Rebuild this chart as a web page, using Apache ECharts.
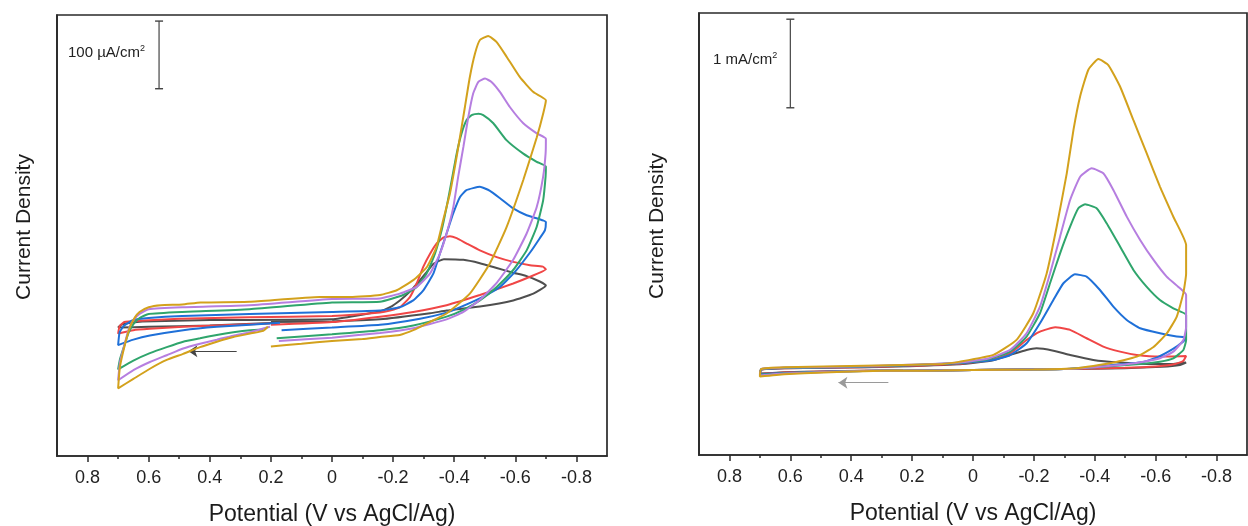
<!DOCTYPE html>
<html>
<head>
<meta charset="utf-8">
<title>CV curves</title>
<script src="https://cdn.jsdelivr.net/npm/echarts@6/dist/echarts.min.js"></script>
<style>
html, body { margin: 0; padding: 0; background: #fff; }
#chart { width: 1248px; height: 526px; }
</style>
</head>
<body>
<div id="chart"></div>
<script>
// potential (V vs AgCl/Ag), current density: left in uA/cm2, right in mA/cm2
var majorTicks = [0.8, 0.6, 0.4, 0.2, 0, -0.2, -0.4, -0.6, -0.8]
var minorTicks = [0.7, 0.5, 0.3, 0.1, -0.1, -0.3, -0.5, -0.7]
var seriesColors = ['#4f4f4f', '#f04646', '#1f70d8', '#2fa56c', '#b67ee0', '#d3a11c']

var leftBlack = [[0.2, 0], [0.0, 1], [-0.157, 4], [-0.321, 13], [-0.375, 17], [-0.484, 23], [-0.593, 32], [-0.659, 42], [-0.70, 54],
  [-0.68, 60], [-0.637, 68], [-0.593, 73], [-0.539, 80], [-0.484, 87], [-0.43, 92], [-0.366, 93], [-0.332, 86], [-0.31, 74], [-0.288, 62], [-0.255, 45], [-0.222, 32], [-0.19, 22], [-0.157, 16],
  [0.0, 4], [0.4, 3], [0.62, 1], [0.66, -1], [0.69, -4], [0.70, -8],
  [0.6, -7], [0.4, -5], [0.2, -1.5]]
var leftRed = [[0.2, -4], [0.0, 0], [-0.157, 8], [-0.266, 15], [-0.375, 25], [-0.484, 40], [-0.593, 57], [-0.648, 67], [-0.70, 78],
  [-0.69, 82], [-0.648, 84], [-0.593, 89], [-0.539, 96], [-0.484, 106], [-0.441, 116], [-0.408, 124], [-0.386, 127], [-0.364, 125], [-0.342, 116], [-0.321, 101], [-0.299, 82], [-0.277, 57], [-0.255, 37], [-0.222, 22], [-0.19, 17], [-0.157, 14],
  [0.0, 9], [0.27, 7], [0.5, 5], [0.63, 2], [0.68, 0], [0.695, -6], [0.70, -17],
  [0.65, -12], [0.596, -10], [0.487, -7], [0.377, -5], [0.203, -2]]
var leftBlue = [[0.165, -12], [0.0, -8], [-0.157, -4], [-0.288, 5], [-0.375, 14], [-0.42, 22], [-0.484, 35], [-0.55, 52], [-0.6, 75], [-0.65, 104], [-0.68, 124], [-0.697, 136], [-0.70, 148],
  [-0.68, 152], [-0.637, 158], [-0.593, 168], [-0.55, 183], [-0.517, 194], [-0.484, 200], [-0.44, 195], [-0.419, 185], [-0.397, 161], [-0.375, 131], [-0.353, 101], [-0.332, 72], [-0.299, 47], [-0.266, 32], [-0.222, 22], [-0.157, 17],
  [0.0, 15], [0.27, 12], [0.49, 9], [0.60, 6], [0.65, 3], [0.68, -5], [0.695, -15], [0.70, -34],
  [0.65, -26], [0.596, -20], [0.487, -12], [0.377, -7], [0.268, -4], [0.17, -1]]
var leftGreen = [[0.181, -24], [0.0, -18], [-0.157, -12], [-0.266, -5], [-0.375, 8], [-0.43, 18], [-0.484, 32], [-0.539, 52], [-0.593, 77], [-0.637, 106], [-0.67, 141], [-0.691, 180], [-0.699, 215], [-0.70, 230],
  [-0.67, 237], [-0.626, 249], [-0.571, 269], [-0.528, 294], [-0.495, 306], [-0.479, 308], [-0.457, 306], [-0.441, 299], [-0.424, 279], [-0.408, 249], [-0.392, 210], [-0.375, 170], [-0.359, 136], [-0.337, 101], [-0.31, 72], [-0.277, 52], [-0.233, 40], [-0.157, 30],
  [0.0, 29], [0.27, 19], [0.49, 15], [0.60, 12], [0.63, 6], [0.65, -3], [0.665, -15], [0.68, -35], [0.694, -55], [0.70, -70],
  [0.65, -57], [0.596, -46], [0.541, -37], [0.487, -29], [0.432, -24], [0.377, -19], [0.323, -15], [0.268, -12], [0.225, -11]]
var leftPurple = [[0.174, -28], [0.0, -23], [-0.157, -16], [-0.266, -9], [-0.375, 4], [-0.43, 15], [-0.484, 33], [-0.539, 58], [-0.593, 92], [-0.637, 131], [-0.67, 170], [-0.691, 215], [-0.699, 249], [-0.70, 271],
  [-0.67, 279], [-0.626, 294], [-0.582, 318], [-0.55, 340], [-0.522, 355], [-0.501, 360], [-0.479, 355], [-0.462, 338], [-0.446, 303], [-0.43, 259], [-0.413, 215], [-0.397, 170], [-0.375, 131], [-0.353, 101], [-0.321, 72], [-0.277, 52], [-0.222, 42], [-0.157, 35],
  [0.0, 34], [0.27, 25], [0.49, 22], [0.60, 19], [0.63, 12], [0.65, 3], [0.665, -10], [0.68, -35], [0.694, -60], [0.70, -86],
  [0.65, -71], [0.596, -59], [0.541, -49], [0.487, -39], [0.432, -32], [0.377, -26], [0.323, -20], [0.268, -15], [0.203, -7]]
var leftGold = [[0.20, -36], [0.10, -32], [0.0, -28], [-0.10, -25], [-0.157, -22], [-0.222, -19], [-0.266, -12], [-0.32, 0], [-0.376, 13], [-0.451, 42], [-0.517, 87], [-0.571, 140], [-0.626, 210], [-0.67, 273], [-0.692, 310], [-0.70, 328],
  [-0.659, 340], [-0.615, 362], [-0.572, 392], [-0.539, 414], [-0.511, 423], [-0.484, 417], [-0.468, 397], [-0.451, 362], [-0.435, 318], [-0.419, 274], [-0.402, 229], [-0.386, 190], [-0.364, 151], [-0.342, 111], [-0.31, 81], [-0.266, 62], [-0.212, 47], [-0.157, 40],
  [-0.06, 37], [0.04, 37], [0.27, 30], [0.43, 29], [0.49, 26], [0.56, 25], [0.60, 22], [0.63, 15], [0.645, 7], [0.661, -7], [0.677, -32], [0.694, -66], [0.70, -98],
  [0.65, -84], [0.596, -69], [0.541, -56], [0.487, -47], [0.432, -37], [0.377, -29], [0.323, -22], [0.268, -17], [0.225, -13], [0.21, -7]]

var rightBlack = [[0.23, -0.01], [0.0, 0.0], [-0.3, 0.01], [-0.5, 0.02], [-0.62, 0.035], [-0.68, 0.055], [-0.70, 0.083],
  [-0.658, 0.068], [-0.57, 0.068], [-0.483, 0.083], [-0.395, 0.113], [-0.319, 0.169], [-0.264, 0.218], [-0.209, 0.245], [-0.176, 0.226], [-0.122, 0.169], [-0.067, 0.11], [0.043, 0.065], [0.36, 0.03], [0.62, 0.018], [0.696, 0.004], [0.70, -0.04],
  [0.62, -0.027], [0.49, -0.016], [0.36, -0.009], [0.23, -0.005]]
var rightRed = [[0.23, -0.01], [0.0, 0.0], [-0.3, 0.01], [-0.5, 0.025], [-0.6, 0.04], [-0.66, 0.065], [-0.69, 0.1], [-0.70, 0.158],
  [-0.614, 0.151], [-0.538, 0.17], [-0.483, 0.207], [-0.428, 0.264], [-0.373, 0.358], [-0.319, 0.452], [-0.27, 0.482], [-0.22, 0.433], [-0.176, 0.339], [-0.122, 0.188], [-0.067, 0.12], [0.043, 0.07], [0.36, 0.032], [0.62, 0.02], [0.696, 0.005], [0.70, -0.045],
  [0.62, -0.03], [0.49, -0.018], [0.36, -0.01], [0.23, -0.005]]
var rightBlue = [[0.23, -0.01], [0.0, 0.0], [-0.3, 0.01], [-0.553, 0.086], [-0.605, 0.142], [-0.657, 0.237], [-0.69, 0.32], [-0.70, 0.365],
  [-0.669, 0.377], [-0.614, 0.414], [-0.549, 0.471], [-0.505, 0.565], [-0.461, 0.715], [-0.417, 0.903], [-0.373, 1.054], [-0.335, 1.08], [-0.297, 0.979], [-0.264, 0.79], [-0.22, 0.527], [-0.176, 0.301], [-0.122, 0.169], [-0.067, 0.113], [0.043, 0.075], [0.36, 0.035], [0.62, 0.022], [0.696, 0.006], [0.70, -0.05],
  [0.62, -0.033], [0.49, -0.02], [0.36, -0.011], [0.23, -0.005]]
var rightGreen = [[0.23, -0.01], [0.0, 0.0], [-0.3, 0.01], [-0.549, 0.068], [-0.614, 0.094], [-0.658, 0.132], [-0.691, 0.226], [-0.70, 0.339], [-0.70, 0.621],
  [-0.658, 0.696], [-0.614, 0.79], [-0.57, 0.941], [-0.527, 1.129], [-0.483, 1.393], [-0.439, 1.656], [-0.406, 1.825], [-0.368, 1.87], [-0.346, 1.825], [-0.319, 1.618], [-0.286, 1.317], [-0.253, 0.979], [-0.22, 0.64], [-0.176, 0.377], [-0.122, 0.207], [-0.05, 0.12], [0.043, 0.08], [0.36, 0.038], [0.62, 0.024], [0.696, 0.008], [0.70, -0.055],
  [0.62, -0.036], [0.49, -0.022], [0.36, -0.012], [0.23, -0.005]]
var rightPurple = [[0.23, -0.01], [0.0, 0.0], [-0.3, 0.01], [-0.483, 0.057], [-0.56, 0.094], [-0.614, 0.132], [-0.658, 0.207], [-0.691, 0.339], [-0.70, 0.489], [-0.70, 0.847],
  [-0.68, 0.922], [-0.636, 1.054], [-0.593, 1.242], [-0.549, 1.468], [-0.505, 1.731], [-0.461, 2.032], [-0.428, 2.22], [-0.39, 2.277], [-0.352, 2.182], [-0.319, 1.919], [-0.286, 1.505], [-0.253, 1.09], [-0.22, 0.715], [-0.176, 0.414], [-0.122, 0.226], [-0.05, 0.13], [0.043, 0.085], [0.36, 0.042], [0.62, 0.027], [0.696, 0.01], [0.70, -0.062],
  [0.62, -0.04], [0.49, -0.024], [0.36, -0.013], [0.23, -0.005]]
var rightGold = [[0.23, -0.01], [0.1, -0.005], [0.0, 0.0], [-0.2, 0.005], [-0.34, 0.02], [-0.45, 0.075], [-0.538, 0.15], [-0.593, 0.26], [-0.636, 0.41], [-0.669, 0.6], [-0.691, 0.87], [-0.70, 1.09], [-0.70, 1.41],
  [-0.658, 1.73], [-0.614, 2.07], [-0.57, 2.45], [-0.527, 2.82], [-0.483, 3.2], [-0.445, 3.44], [-0.412, 3.51], [-0.379, 3.39], [-0.352, 3.09], [-0.33, 2.71], [-0.308, 2.22], [-0.275, 1.62], [-0.242, 1.09], [-0.198, 0.64], [-0.143, 0.34], [-0.067, 0.17], [0.043, 0.094], [0.10, 0.068], [0.36, 0.047], [0.62, 0.03], [0.696, 0.01], [0.70, -0.073],
  [0.62, -0.047], [0.49, -0.028], [0.36, -0.015], [0.23, -0.005]]

var leftScaleBar = [[0.566, 345], [0.566, 445]]
var rightScaleBar = [[0.6, 2.96], [0.6, 3.96]]
var leftArrow = [[0.312, -43], [0.47, -43]]
var rightArrow = [[0.278, -0.143], [0.442, -0.143]]

var leftCurves = [leftBlack, leftRed, leftBlue, leftGreen, leftPurple, leftGold]
var rightCurves = [rightBlack, rightRed, rightBlue, rightGreen, rightPurple, rightGold]

var font = "'Liberation Sans', Arial, sans-serif"

function mainXAxis (grid) {
  return {
    type: 'value', gridIndex: grid, min: -0.9, max: 0.9, inverse: true, position: 'bottom',
    name: 'Potential (V vs AgCl/Ag)', nameLocation: 'middle', nameGap: 47,
    nameTextStyle: { fontSize: 23, color: '#1c1c1c', fontFamily: font },
    axisLine: { onZero: false, lineStyle: { color: '#2a2a2a', width: 1.7 } },
    axisTick: { show: true, length: 6, customValues: majorTicks, lineStyle: { color: '#2a2a2a', width: 1.5 } },
    axisLabel: { customValues: majorTicks, fontSize: 18, color: '#222', fontFamily: font, margin: 13 },
    splitLine: { show: false }
  }
}
function minorXAxis (grid) {
  return {
    type: 'value', gridIndex: grid, min: -0.9, max: 0.9, inverse: true, position: 'bottom',
    axisLine: { show: false, onZero: false },
    axisTick: { show: true, length: 3, customValues: minorTicks, lineStyle: { color: '#2a2a2a', width: 1.5 } },
    axisLabel: { show: false },
    splitLine: { show: false }
  }
}
function yAxisFor (grid, min, max) {
  return {
    type: 'value', gridIndex: grid, min: min, max: max, position: 'left',
    axisLine: { show: true, onZero: false, lineStyle: { color: '#2a2a2a', width: 1.7 } },
    axisTick: { show: false }, axisLabel: { show: false }, splitLine: { show: false }
  }
}
function curve (data, color, xi, yi) {
  return {
    type: 'line', xAxisIndex: xi, yAxisIndex: yi, data: data,
    symbol: 'none', smooth: 0.15, silent: true,
    lineStyle: { color: color, width: 2 }, itemStyle: { color: color }
  }
}
function scaleBar (data, xi, yi) {
  return {
    type: 'line', xAxisIndex: xi, yAxisIndex: yi, data: data, silent: true,
    symbol: 'rect', symbolSize: [8, 1.4], showSymbol: true,
    lineStyle: { color: '#444', width: 1.2 }, itemStyle: { color: '#444' }
  }
}
function arrow (data, xi, yi, color) {
  return {
    type: 'lines', coordinateSystem: 'cartesian2d', xAxisIndex: xi, yAxisIndex: yi, silent: true,
    symbol: ['none', 'arrow'], symbolSize: 9,
    lineStyle: { color: color, width: 1.1, opacity: 1 }, itemStyle: { color: '#111' },
    data: [{ coords: data }]
  }
}

var series = []
leftCurves.forEach(function (c, i) { series.push(curve(c, seriesColors[i], 0, 0)) })
rightCurves.forEach(function (c, i) { series.push(curve(c, seriesColors[i], 2, 1)) })
series.push(scaleBar(leftScaleBar, 0, 0))
series.push(scaleBar(rightScaleBar, 2, 1))
series.push(arrow(leftArrow, 0, 0, '#444'))
series.push(arrow(rightArrow, 2, 1, '#9a9a9a'))

var supRich = {
  b: { fontSize: 15, fontFamily: font, fill: '#222', lineHeight: 18 },
  s: { fontSize: 9, fontFamily: font, fill: '#222', verticalAlign: 'top' }
}

var chart = echarts.init(document.getElementById('chart'), null, { renderer: 'canvas' })
chart.setOption({
  animation: false,
  backgroundColor: '#fff',
  textStyle: { fontFamily: font },
  grid: [
    { left: 57, top: 15, width: 550, height: 441, show: true, borderColor: '#2a2a2a', borderWidth: 1.7, containLabel: false, outerBoundsMode: 'none' },
    { left: 699, top: 13, width: 548, height: 442, show: true, borderColor: '#2a2a2a', borderWidth: 1.7, containLabel: false, outerBoundsMode: 'none' }
  ],
  xAxis: [mainXAxis(0), minorXAxis(0), mainXAxis(1), minorXAxis(1)],
  yAxis: [yAxisFor(0, -198, 454), yAxisFor(1, -0.96, 4.03)],
  graphic: [
    { type: 'text', left: 68, top: 44, style: { text: '{b|100 µA/cm}{s|2}', rich: supRich } },
    { type: 'text', left: 713, top: 51, style: { text: '{b|1 mA/cm}{s|2}', rich: supRich } },
    { type: 'text', x: 24, y: 227, rotation: Math.PI / 2, style: { text: 'Current Density', fontSize: 21, fontFamily: font, fill: '#1c1c1c', align: 'center', verticalAlign: 'middle' } },
    { type: 'text', x: 657, y: 226, rotation: Math.PI / 2, style: { text: 'Current Density', fontSize: 21, fontFamily: font, fill: '#1c1c1c', align: 'center', verticalAlign: 'middle' } }
  ],
  series: series
})
</script>
</body>
</html>
